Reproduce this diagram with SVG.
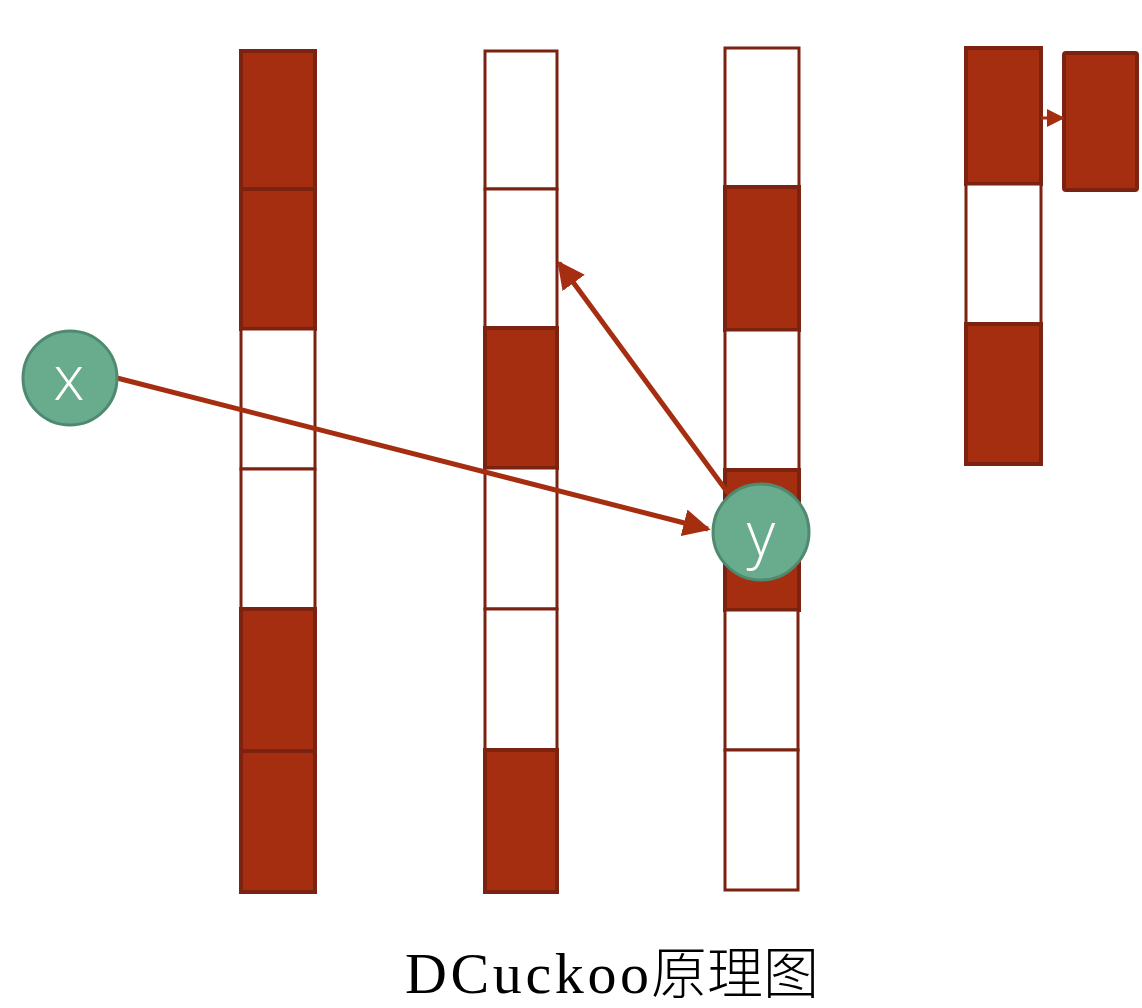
<svg xmlns="http://www.w3.org/2000/svg" width="1142" height="1008" viewBox="0 0 1142 1008">
  <style>
    .full { fill: #a52e10; stroke: #7b2210; stroke-width: 4; }
    .empty { fill: #ffffff; stroke: #7b2210; stroke-width: 3; }
    .node circle { fill: #68ab8d; stroke: #4f8a70; stroke-width: 3; }
    .node text { fill: #ffffff; font-family: "Open Sans", "DejaVu Sans", sans-serif; font-size: 62px; font-weight: 300; text-anchor: middle; }
    .link { stroke: #a52e10; stroke-width: 5; fill: none; }
  </style>
  <defs>
    <marker id="head" viewBox="0 0 10 10" refX="9" refY="5" markerWidth="5.5" markerHeight="5.5" orient="auto" markerUnits="strokeWidth">
      <path d="M0,0 L10,5 L0,10 z" fill="#a52e10"/>
    </marker>
    <marker id="headSmall" viewBox="0 0 10 10" refX="9" refY="5" markerWidth="6" markerHeight="6" orient="auto" markerUnits="strokeWidth">
      <path d="M0,0 L10,5 L0,10 z" fill="#a52e10"/>
    </marker>
  </defs>

  <!-- bucket column 1 -->
  <g id="table1">
    <rect class="full" x="241" y="51" width="74" height="138"/>
    <rect class="full" x="241" y="189" width="74" height="140"/>
    <rect class="empty" x="241" y="329" width="74" height="140"/>
    <rect class="empty" x="241" y="469" width="74" height="140"/>
    <rect class="full" x="241" y="609" width="74" height="142"/>
    <rect class="full" x="241" y="751" width="74" height="141"/>
  </g>

  <!-- bucket column 2 -->
  <g id="table2">
    <rect class="empty" x="485" y="51" width="72" height="138"/>
    <rect class="empty" x="485" y="189" width="72" height="139"/>
    <rect class="full" x="485" y="328" width="72" height="140"/>
    <rect class="empty" x="485" y="468" width="72" height="141"/>
    <rect class="empty" x="485" y="609" width="72" height="141"/>
    <rect class="full" x="485" y="750" width="72" height="142"/>
  </g>

  <!-- bucket column 3 -->
  <g id="table3">
    <rect class="empty" x="725" y="48" width="74" height="139"/>
    <rect class="full" x="725" y="187" width="74" height="143"/>
    <rect class="empty" x="725" y="330" width="74" height="140"/>
    <rect class="full" x="725" y="470" width="74" height="140"/>
    <rect class="empty" x="725" y="610" width="73" height="140"/>
    <rect class="empty" x="725" y="750" width="73" height="140"/>
  </g>

  <!-- bucket column 4 with overflow -->
  <g id="table4">
    <rect class="full" x="966" y="48" width="75" height="136"/>
    <rect class="empty" x="966" y="184" width="75" height="140"/>
    <rect class="full" x="966" y="324" width="75" height="140"/>
  </g>
  <g id="overflow">
    <rect class="full" x="1064" y="53" width="73" height="137" rx="2"/>
  </g>

  <!-- connectors -->
  <g id="connectors">
    <line class="link" x1="117" y1="378" x2="708" y2="529" marker-end="url(#head)"/>
    <line class="link" x1="728" y1="493" x2="559" y2="263" marker-end="url(#head)"/>
    <line class="link" style="stroke-width:3" x1="1041" y1="118" x2="1063" y2="118" marker-end="url(#headSmall)"/>
  </g>

  <!-- items -->
  <g id="x" class="node">
    <circle cx="70" cy="378" r="47"/>
    <text x="69" y="400">x</text>
  </g>
  <g id="y" class="node">
    <circle cx="761" cy="532" r="48"/>
    <text x="761" y="556">y</text>
  </g>

  <g id="caption">
    <text x="405" y="993" font-family="'Liberation Serif', serif" font-size="58" fill="#000" textLength="244" lengthAdjust="spacing">DCuckoo</text>
    <text x="651" y="993" font-family="'Noto Sans CJK SC', sans-serif" font-size="56" font-weight="300" fill="#000">原理图</text>
  </g>
</svg>
